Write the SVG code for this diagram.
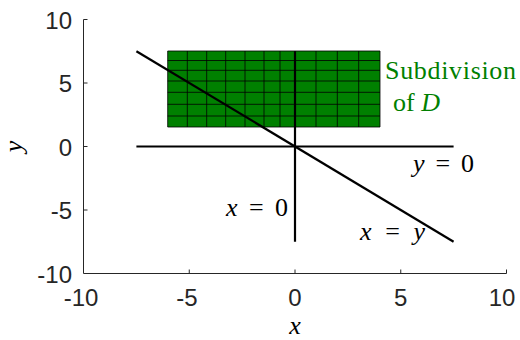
<svg xmlns="http://www.w3.org/2000/svg" width="520" height="340" viewBox="0 0 520 340">
<style>
.tick{font-family:"Liberation Sans",Arial,sans-serif;font-size:24px;fill:#262626}
.ax{stroke:#262626;stroke-width:1;fill:none}
.m{font-family:"Times New Roman","Liberation Serif",serif;font-size:26px;fill:#000}
.it{font-style:italic}
.ln{stroke:#000;stroke-width:2.2;fill:none}
.cell{fill:#008000;stroke:#000;stroke-width:0.8}
.g{font-family:"Times New Roman","Liberation Serif",serif;font-size:26px;fill:#008000}
</style>
<rect width="520" height="340" fill="#fff"/>
<g id="axes">
<path class="ax" d="M83.5,19.5V273.5H506.5"/>
<path class="ax" d="M83.5,19.5h4M83.5,83h4M83.5,146.5h4M83.5,210h4M189.25,273.5v-4M295,273.5v-4M400.75,273.5v-4M506.5,273.5v-4"/>
<g class="tick" text-anchor="end">
<text x="72" y="28.5">10</text>
<text x="72" y="92">5</text>
<text x="72" y="155.5">0</text>
<text x="72" y="219">-5</text>
<text x="72" y="282.5">-10</text>
</g>
<g class="tick" text-anchor="middle">
<text x="81" y="306">-10</text>
<text x="187" y="306">-5</text>
<text x="295" y="306">0</text>
<text x="400.75" y="306">5</text>
<text x="502" y="306">10</text>
</g>
<text class="m it" x="295" y="334" text-anchor="middle">x</text>
<text class="m it" transform="translate(22,146.5) rotate(-90)" text-anchor="middle">y</text>
</g>
<g id="subdivision">
<path class="cell" d="M167.7,51H380V127H167.7Z"/>
<path class="cell" fill="none" d="M187.3,51V127M206.7,51V127M225.7,51V127M245,51V127M264,51V127M280,51V127M295,51V127M316,51V127M337.3,51V127M358.7,51V127M167.7,60.5H380M167.7,70.3H380M167.7,81H380M167.7,92.3H380M167.7,104.3H380M167.7,116H380"/>
</g>
<g id="connectors">
<line class="ln" x1="136.4" y1="51.25" x2="453.6" y2="241.75"/>
<line class="ln" x1="136.4" y1="146.5" x2="453.6" y2="146.5"/>
<line class="ln" x1="295" y1="51.25" x2="295" y2="241.75"/>
</g>
<g id="labels">
<text class="g" x="385" y="79" textLength="131" lengthAdjust="spacing">Subdivision</text>
<text class="g" x="393" y="111">of <tspan class="it">D</tspan></text>
<text class="m" x="226" y="216" textLength="62" lengthAdjust="spacing"><tspan class="it">x</tspan> = 0</text>
<text class="m" x="413" y="172" textLength="61" lengthAdjust="spacing"><tspan class="it">y</tspan> = 0</text>
<text class="m" x="360" y="240" textLength="65" lengthAdjust="spacing"><tspan class="it">x</tspan> = <tspan class="it">y</tspan></text>
</g>
</svg>
